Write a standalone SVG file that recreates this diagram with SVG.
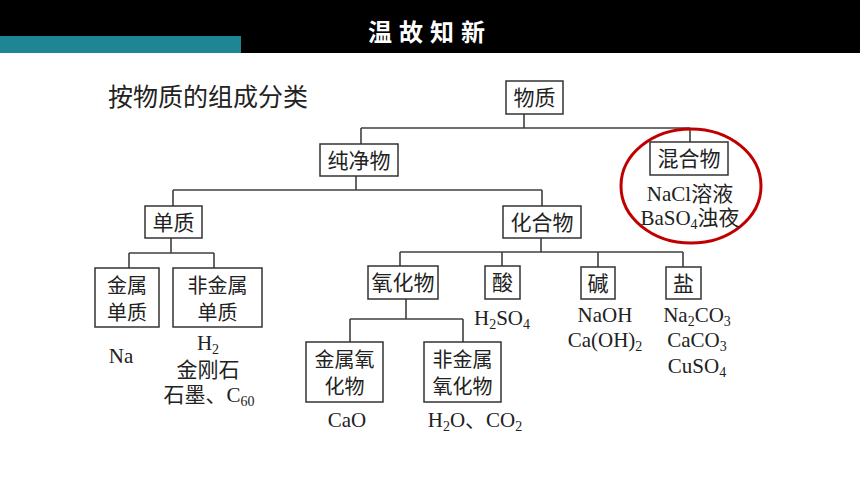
<svg xmlns="http://www.w3.org/2000/svg" width="860" height="484" viewBox="0 0 860 484">
<style>
.box{fill:#fff;stroke:#333;stroke-width:1.5}
.lbl{font-family:"Noto Sans CJK SC","Liberation Sans",sans-serif;font-size:21px;fill:#222;text-anchor:middle}
.lbl2{font-size:20px}
.chem{font-family:"Liberation Serif","Noto Sans CJK SC",serif;font-size:21px;fill:#222;text-anchor:middle}
.conn{fill:none;stroke:#404040;stroke-width:1.6}
.sub{font-size:14px}
</style>
<rect x="0" y="0" width="860" height="53" fill="#000"/>
<rect x="0" y="36" width="241" height="17" fill="#1D8594"/>
<text x="430" y="41" font-family="Noto Sans CJK SC,sans-serif" font-size="24" font-weight="bold" fill="#fff" text-anchor="middle" letter-spacing="7">温故知新</text>
<text x="108" y="106" font-family="Noto Sans CJK SC,sans-serif" font-size="25" fill="#222">按物质的组成分类</text>
<g id="connectors" class="conn">
<path d="M524 114V128M361 128H690M361 128V144M690 128V142"/>
<path d="M356 176V190M173 190H542M173 190V206M542 190V206"/>
<path d="M171 238V253M129 253H214M129 253V268M214 253V268"/>
<path d="M541 238V252M400 252H683M400 252V266M502 252V266M598 252V267M683 252V267"/>
<path d="M406 299V319M350 319H463M350 319V342M463 319V342"/>
</g>
<g id="n-wuzhi"><rect class="box" x="506" y="81" width="57" height="33"/><text class="lbl" x="534.5" y="105">物质</text></g>
<g id="n-chunjingwu"><rect class="box" x="320" y="144" width="78" height="32"/><text class="lbl" x="359" y="167.5">纯净物</text></g>
<g id="n-hunhewu">
<ellipse cx="691" cy="186" rx="70" ry="57" fill="none" stroke="#C00000" stroke-width="3"/>
<rect class="box" x="650" y="142" width="78" height="33"/><text class="lbl" x="689" y="166">混合物</text>
<text class="chem" x="690" y="201">NaCl溶液</text>
<text class="chem" x="690" y="225">BaSO<tspan class="sub" dy="4">4</tspan><tspan dy="-4">浊夜</tspan></text>
</g>
<g id="n-danzhi"><rect class="box" x="145" y="206" width="57" height="32"/><text class="lbl" x="173.5" y="229.5">单质</text></g>
<g id="n-huahewu"><rect class="box" x="503" y="206" width="78" height="32"/><text class="lbl" x="542" y="229.5">化合物</text></g>
<g id="n-jinshudanzhi"><rect class="box" x="95" y="268" width="64" height="59"/><text class="lbl lbl2" x="127" y="293">金属</text><text class="lbl lbl2" x="127" y="320">单质</text>
<text class="chem" x="121" y="363">Na</text></g>
<g id="n-feijinshudanzhi"><rect class="box" x="173" y="268" width="89" height="59"/><text class="lbl lbl2" x="217.5" y="293">非金属</text><text class="lbl lbl2" x="217.5" y="320">单质</text>
<text class="chem" x="208" y="350">H<tspan class="sub" dy="4">2</tspan></text>
<text class="chem" x="208" y="377">金刚石</text>
<text class="chem" x="209" y="402">石墨、C<tspan class="sub" dy="4">60</tspan></text></g>
<g id="n-yanghuawu"><rect class="box" x="368" y="266" width="70" height="33"/><text class="lbl" x="403" y="290">氧化物</text></g>
<g id="n-suan"><rect class="box" x="485" y="266" width="35" height="33"/><text class="lbl" x="502.5" y="290">酸</text>
<text class="chem" x="502" y="325">H<tspan class="sub" dy="4">2</tspan><tspan dy="-4">SO</tspan><tspan class="sub" dy="4">4</tspan></text></g>
<g id="n-jian"><rect class="box" x="581" y="267" width="34" height="32"/><text class="lbl" x="598" y="290.5">碱</text>
<text class="chem" x="605" y="322">NaOH</text>
<text class="chem" x="605" y="347">Ca(OH)<tspan class="sub" dy="4">2</tspan></text></g>
<g id="n-yan"><rect class="box" x="666" y="267" width="35" height="32"/><text class="lbl" x="683.5" y="290.5">盐</text>
<text class="chem" x="697" y="322">Na<tspan class="sub" dy="4">2</tspan><tspan dy="-4">CO</tspan><tspan class="sub" dy="4">3</tspan></text>
<text class="chem" x="697" y="347">CaCO<tspan class="sub" dy="4">3</tspan></text>
<text class="chem" x="697" y="373">CuSO<tspan class="sub" dy="4">4</tspan></text></g>
<g id="n-jinshuyanghuawu"><rect class="box" x="306" y="342" width="77" height="60"/><text class="lbl lbl2" x="344.5" y="367">金属氧</text><text class="lbl lbl2" x="344.5" y="394">化物</text>
<text class="chem" x="347" y="427">CaO</text></g>
<g id="n-feijinshuyanghuawu"><rect class="box" x="424" y="342" width="77" height="60"/><text class="lbl lbl2" x="462.5" y="367">非金属</text><text class="lbl lbl2" x="462.5" y="394">氧化物</text>
<text class="chem" x="475" y="427">H<tspan class="sub" dy="4">2</tspan><tspan dy="-4">O、CO</tspan><tspan class="sub" dy="4">2</tspan></text></g>
</svg>
